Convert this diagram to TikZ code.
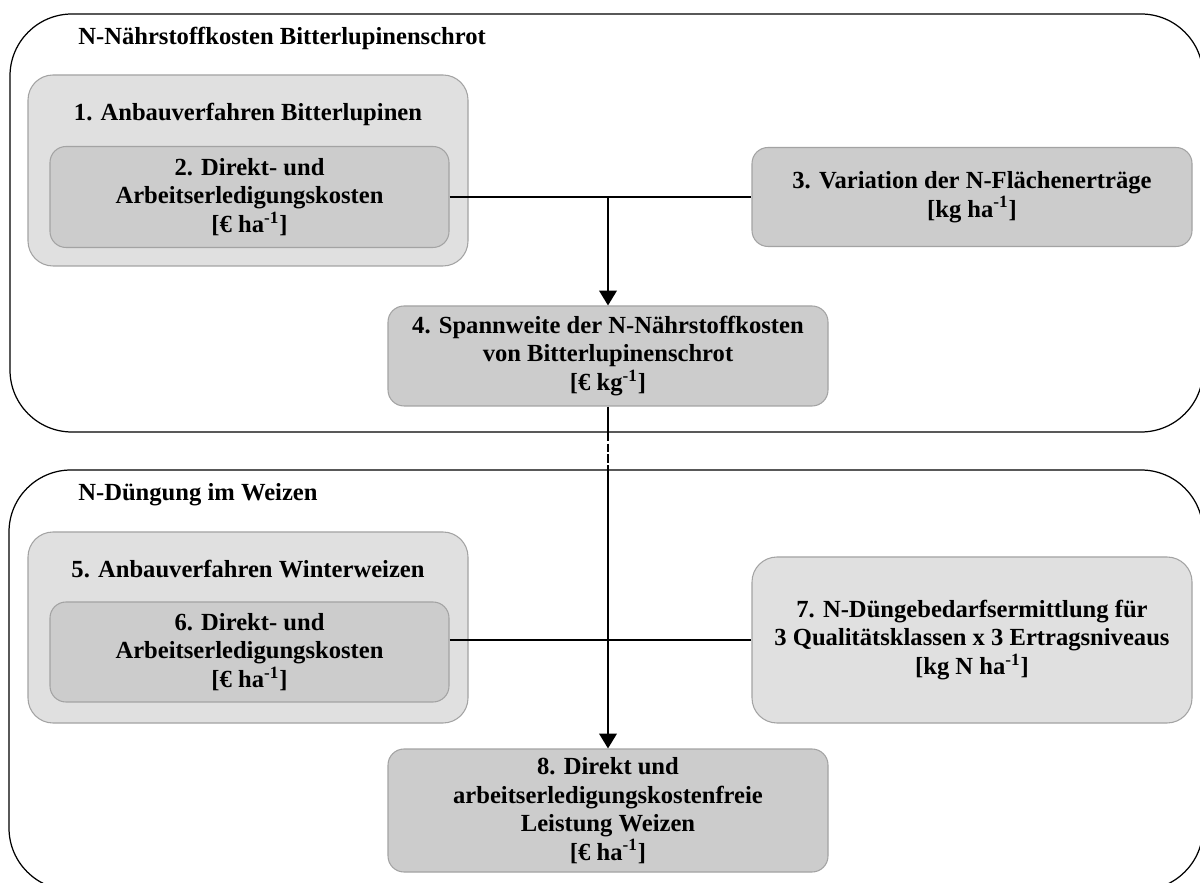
\documentclass[tikz,border=0pt]{standalone}
\usepackage{fontspec}
\setmainfont{Liberation Serif}
\usepackage{xcolor}
\usepackage{tikz}
\usetikzlibrary{arrows.meta,positioning}

\definecolor{boxlight}{HTML}{E0E0E0}
\definecolor{boxdark}{HTML}{CCCCCC}
\definecolor{boxline}{HTML}{A3A3A3}

\begin{document}
\begin{tikzpicture}[
    font=\fontsize{14}{16.2}\selectfont\bfseries,
    box/.style={rounded corners=0.32cm, draw=boxline, line width=0.6pt, align=center, inner sep=0pt},
    lbox/.style={box, fill=boxlight, rounded corners=0.5cm},
    dbox/.style={box, fill=boxdark},
    section/.style={draw=black, line width=0.7pt, rounded corners=1.24cm, fill=white, inner sep=0pt},
    heading/.style={inner sep=0pt},
    % Connector styles
    conn/.style={black, line width=1.2pt},
    arrow/.style={conn, -{Triangle[length=8.5pt, width=10pt]}},
    dashconn/.style={conn, dash pattern=on 5pt off 1.2pt},
    ]

    \useasboundingbox (0,0) rectangle (24,17.64);
    \clip (0,0) rectangle (24,17.64);

    % Upper section: lupine meal
    \node[section, minimum width=23.86cm, minimum height=8.36cm] (secLupine) at (12.13,13.18) {};
    \node[heading, anchor=base west] (secLupineT) at (1.56,16.74) {N-Nährstoffkosten Bitterlupinenschrot};

    \node[lbox, minimum width=8.8cm, minimum height=3.82cm] (anbauL) at (4.96,14.23) {};
    \node[heading, anchor=base] (anbauLT) at (4.96,15.22) {1. Anbauverfahren Bitterlupinen};
    \node[dbox, minimum width=7.98cm, minimum height=2.02cm] (kostenL) at (4.99,13.7) {2. Direkt- und\\Arbeitserledigungskosten\\{[}€ ha\textsuperscript{-1}{]}};

    \node[dbox, minimum width=8.8cm, minimum height=1.98cm] (ertrag) at (19.44,13.7) {3. Variation der N-Flächenerträge\\{[}kg ha\textsuperscript{-1}{]}};

    \node[dbox, minimum width=8.8cm, minimum height=2cm] (spann) at (12.16,10.52) {4. Spannweite der N-Nährstoffkosten\\von Bitterlupinenschrot\\{[}€ kg\textsuperscript{-1}{]}};

    % Lower section: wheat fertilisation
    \node[section, minimum width=23.88cm, minimum height=8.4cm] (secWeizen) at (12.12,4.04) {};
    \node[heading, anchor=base west] (secWeizenT) at (1.56,7.62) {N-Düngung im Weizen};

    \node[lbox, minimum width=8.8cm, minimum height=3.82cm] (anbauW) at (4.96,5.09) {};
    \node[heading, anchor=base] (anbauWT) at (4.96,6.08) {5. Anbauverfahren Winterweizen};
    \node[dbox, minimum width=7.98cm, minimum height=2cm] (kostenW) at (4.99,4.6) {6. Direkt- und\\Arbeitserledigungskosten\\{[}€ ha\textsuperscript{-1}{]}};

    \node[lbox, minimum width=8.8cm, minimum height=3.32cm] (bedarf) at (19.44,4.84) {7. N-Düngebedarfsermittlung für\\3 Qualitätsklassen x 3 Ertragsniveaus\\{[}kg N ha\textsuperscript{-1}{]}};

    \node[dbox, minimum width=8.8cm, minimum height=2.46cm] (leistung) at (12.16,1.43) {8. Direkt und\\arbeitserledigungskostenfreie\\Leistung Weizen\\{[}€ ha\textsuperscript{-1}{]}};

    % Connections in the upper section
    \draw[conn] (kostenL.east) -- (ertrag.west);
    \draw[arrow] (kostenL.east -| spann.north) -- (spann.north);

    % Link between the sections (dashed in the gap)
    \draw[conn] (spann.south) -- (spann.south |- secLupine.south);
    \draw[dashconn] (spann.south |- secLupine.south) -- (spann.south |- secWeizen.north);
    \draw[arrow] (spann.south |- secWeizen.north) -- (leistung.north);

    % Connections in the lower section
    \draw[conn] (kostenW.east |- bedarf.west) -- (bedarf.west);

\end{tikzpicture}
\end{document}
